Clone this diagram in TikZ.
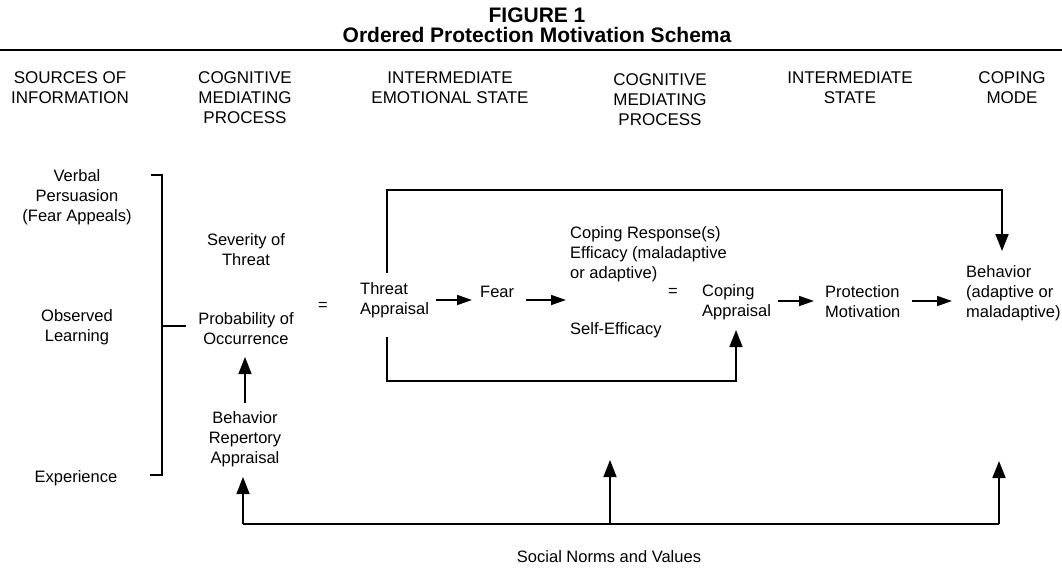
\documentclass[tikz,border=0pt]{standalone}
\usepackage{fontspec}
\setmainfont{Liberation Sans}
\usetikzlibrary{arrows.meta}
\tikzset{
  txt/.style={inner sep=0pt, align=center, font=\fontsize{16.5}{20}\selectfont},
  ltxt/.style={inner sep=0pt, align=left, anchor=west, font=\fontsize{16.5}{20}\selectfont},
  hdr/.style={inner sep=0pt, align=center, font=\fontsize{17}{20}\selectfont},
  ttl/.style={inner sep=0pt, align=center, font=\bfseries\fontsize{21}{20}\selectfont},
  ln/.style={line width=1.7pt, line join=miter},
  arr/.style={ln, -{Triangle[length=15pt,width=10pt]}},
  varr/.style={ln, -{Triangle[length=17pt,width=13pt]}},
}
\begin{document}
\begin{tikzpicture}[x=1pt,y=-1pt]
\useasboundingbox (0,0) rectangle (1062,579);
% title
\node[ttl] (t1) at (537,15) {FIGURE 1};
\node[ttl] (t2) at (537,35) {Ordered Protection Motivation Schema};
\coordinate (rl) at (0,50);
\coordinate (rr) at (1062,50);
\draw[line width=2.6pt] (rl) -- (rr);
% headers
\node[hdr] (h1) at (70,88) {SOURCES OF\\INFORMATION};
\node[hdr] (h2) at (245,98) {COGNITIVE\\MEDIATING\\PROCESS};
\node[hdr] (h3) at (450,88) {INTERMEDIATE\\EMOTIONAL STATE};
\node[hdr] (h4) at (660,100) {COGNITIVE\\MEDIATING\\PROCESS};
\node[hdr] (h5) at (850,88) {INTERMEDIATE\\STATE};
\node[hdr] (h6) at (1012,88) {COPING\\MODE};
% sources
\node[txt] (src1) at (77,197) {Verbal\\Persuasion\\(Fear Appeals)};
\node[txt] (src2) at (77,327) {Observed\\Learning};
\node[txt] (src3) at (76,478) {Experience};
% bracket
\coordinate (bt) at (151,175);
\coordinate (btc) at (162,175);
\coordinate (bb) at (150,475);
\coordinate (bbc) at (162,475);
\coordinate (bm) at (162,326);
\coordinate (bme) at (186,326);
\draw[ln] (bt) -- (btc) -- (bbc) -- (bb);
\draw[ln] (bm) -- (bme);
% cognitive mediating 1
\node[txt] (sev) at (246,250) {Severity of\\Threat};
\node[txt] (prob) at (246,329) {Probability of\\Occurrence};
\node[txt] (rep) at (245,439) {Behavior\\Repertory\\Appraisal};
\coordinate (repN) at (245,403);
\coordinate (probS) at (245,357);
\draw[varr] (repN) -- (probS);
\node[txt] (eq1) at (323,306) {=};
% threat / fear
\node[ltxt] (threat) at (360,300) {Threat\\Appraisal};
\node[ltxt] (fear) at (480,292) {Fear};
\coordinate (a1s) at (436,300);
\coordinate (a1e) at (472,300);
\draw[arr] (a1s) -- (a1e);
\coordinate (a2s) at (526,300);
\coordinate (a2e) at (566,300);
\draw[arr] (a2s) -- (a2e);
% coping side
\node[ltxt] (cre) at (570,254) {Coping Response(s)\\Efficacy (maladaptive\\or adaptive)};
\node[ltxt] (self) at (570,330) {Self-Efficacy};
\node[txt] (eq2) at (673,292) {=};
\node[ltxt] (cope) at (702,302) {Coping\\Appraisal};
\coordinate (a3s) at (778,301);
\coordinate (a3e) at (814,301);
\draw[arr] (a3s) -- (a3e);
\node[ltxt] (prot) at (825,302) {Protection\\Motivation};
\coordinate (a4s) at (912,301);
\coordinate (a4e) at (952,301);
\draw[arr] (a4s) -- (a4e);
\node[ltxt] (beh) at (966,293) {Behavior\\(adaptive or\\maladaptive)};
% top loop
\coordinate (tl0) at (387,273);
\coordinate (tl1) at (387,190);
\coordinate (tl2) at (1002,190);
\coordinate (tl3) at (1002,251);
\draw[varr] (tl0) -- (tl1) -- (tl2) -- (tl3);
% bottom loop
\coordinate (bl0) at (387,337);
\coordinate (bl1) at (387,381);
\coordinate (bl2) at (736,381);
\coordinate (bl3) at (736,330);
\draw[varr] (bl0) -- (bl1) -- (bl2) -- (bl3);
% social norms
\coordinate (s1) at (243,524);
\coordinate (s2) at (610,524);
\coordinate (s3) at (999,524);
\coordinate (s1t) at (243,477);
\coordinate (s2t) at (610,460);
\coordinate (s3t) at (999,461);
\draw[ln] (s1) -- (s3);
\draw[varr] (s1) -- (s1t);
\draw[varr] (s2) -- (s2t);
\draw[varr] (s3) -- (s3t);
\node[txt] (soc) at (609,557) {Social Norms and Values};
\end{tikzpicture}
\end{document}
